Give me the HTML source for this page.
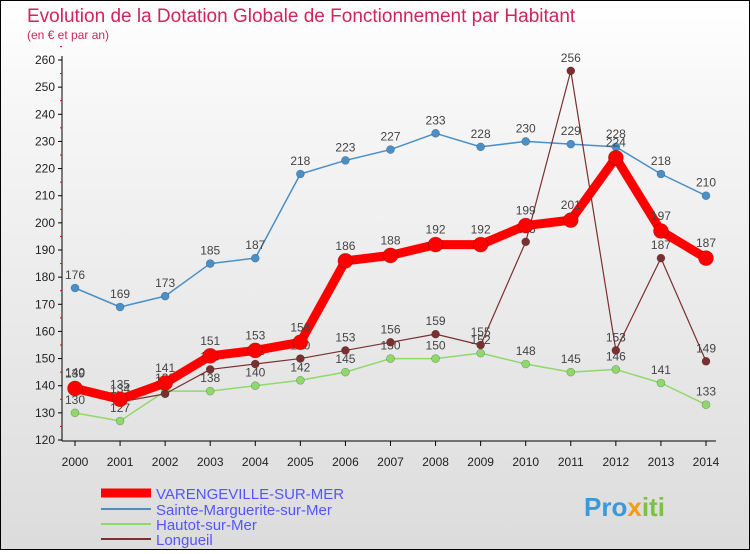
<!DOCTYPE html>
<html><head><meta charset="utf-8"><style>
body{margin:0;width:750px;height:550px;overflow:hidden;font-family:"Liberation Sans",sans-serif}
#wrap{position:absolute;left:0;top:0;width:748px;height:548px;border:1px solid #000;background:linear-gradient(#fff,#f6f6f6 20%,#dcdcdc)}
</style></head><body>
<div id="wrap">
<svg width="748" height="548" xmlns="http://www.w3.org/2000/svg" id="svg">
<text x="26" y="21" font-size="19" fill="#d0245a">Evolution de la Dotation Globale de Fonctionnement par Habitant</text>
<text x="26" y="38" font-size="12" fill="#d0245a">(en € et par an)</text>
<g id="axes"></g><g id="series"></g>
<g>
<line x1="100" y1="492" x2="150" y2="492" stroke="#f00" stroke-width="9"/>
<text x="155" y="498" font-size="15" fill="#55f">VARENGEVILLE-SUR-MER</text>
<line x1="100" y1="508" x2="150" y2="508" stroke="#4a90c8" stroke-width="2"/>
<text x="155" y="514" font-size="15" fill="#55f">Sainte-Marguerite-sur-Mer</text>
<line x1="100" y1="523" x2="150" y2="523" stroke="#8fd96a" stroke-width="2"/>
<text x="155" y="529" font-size="15" fill="#55f">Hautot-sur-Mer</text>
<line x1="100" y1="538" x2="150" y2="538" stroke="#7a3030" stroke-width="2"/>
<text x="155" y="544" font-size="15" fill="#55f">Longueil</text>
</g>
<text x="583" y="515" font-size="26" font-weight="bold" fill="#3a9ad9">Pro<tspan fill="#f39c12">x</tspan><tspan fill="#7cc242">iti</tspan></text>
</svg></div>
<script>
const years=[2000,2001,2002,2003,2004,2005,2006,2007,2008,2009,2010,2011,2012,2013,2014];
const yTicks=[120,130,140,150,160,170,180,190,200,210,220,230,240,250,260];
const varengeville=[139,135,141,151,153,156,186,188,192,192,199,201,224,197,187];
const sainteMarguerite=[176,169,173,185,187,218,223,227,233,228,230,229,228,218,210];
const hautot=[130,127,138,138,140,142,145,150,150,152,148,145,146,141,133];
const longueil=[140,134,137,146,148,150,153,156,159,155,193,256,153,187,149];
const NS="http://www.w3.org/2000/svg";
const X=i=>74+i*(631/14);
const Y=v=>439-(v-120)*(380/140);
function mk(t,a,p){const e=document.createElementNS(NS,t);for(const k in a)e.setAttribute(k,a[k]);p.appendChild(e);return e;}
const ax=document.getElementById('axes');
const yl=mk('line',{x1:61,y1:55,x2:61,y2:440,stroke:'#000'},ax);


const xl=mk('line',{x1:61,y1:440,x2:715,y2:440,stroke:'#000'},ax);


yTicks.forEach(v=>{
 mk('line',{x1:57,y1:Y(v),x2:61,y2:Y(v),stroke:'#000'},ax);
 mk('line',{x1:59,y1:Y(v+5),x2:61,y2:Y(v+5),stroke:'#e00'},ax);
 const t=mk('text',{x:54,y:Y(v)+4,'font-size':12,'text-anchor':'end',fill:'#222'},ax);t.textContent=v;
 
 
});
years.forEach((y,i)=>{
 mk('line',{x1:X(i),y1:440,x2:X(i),y2:445,stroke:'#000'},ax);
 const t=mk('text',{x:X(i),y:465,'font-size':12,'text-anchor':'middle',fill:'#222'},ax);t.textContent=y;
 
 
});
const sg=document.getElementById('series');
function draw(arr,color,w,r,name,dy){
 const g=mk('g',{},sg);
 
 
 const pl=mk('polyline',{points:arr.map((v,i)=>X(i)+','+Y(v)).join(' '),fill:'none',stroke:color,'stroke-width':w,'stroke-linejoin':'round'},g);
 
 
 arr.forEach((v,i)=>{
  const c=mk('circle',{cx:X(i),cy:Y(v),r:r,fill:color,stroke:'rgba(0,0,0,0.3)','stroke-width':0.6},g);
  
  
  const t=mk('text',{x:X(i),y:Y(v)-dy,'font-size':12,'text-anchor':'middle',fill:'#444'},g);t.textContent=v;
  
  
 });
}
draw(hautot,'#8fd96a',1.5,4,'hautot',9);
draw(sainteMarguerite,'#4a90c8',1.5,4,'sainte-marguerite',9);
draw(longueil,'#7a3030',1.2,4,'longueil',9);
draw(varengeville,'#f00',9,7.5,'varengeville',11);
</script>
</body></html>
